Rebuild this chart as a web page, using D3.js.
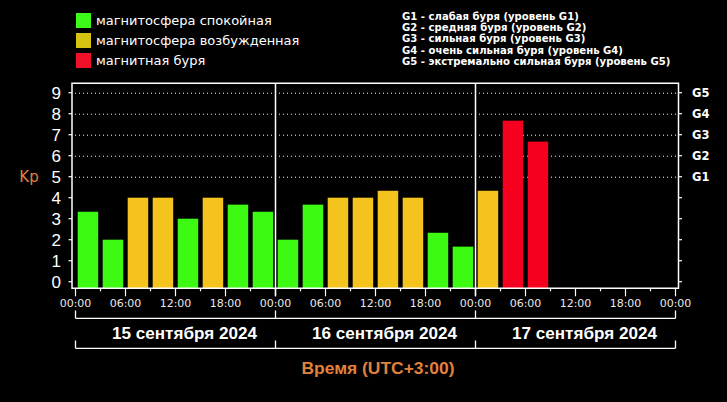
<!DOCTYPE html>
<html><head><meta charset="utf-8">
<script src="https://cdn.jsdelivr.net/npm/d3@7"></script>
<style>html,body{margin:0;padding:0;background:#000;}svg{display:block;}</style>
</head><body>
<script>
// ---- data ----
const days = ["15 сентября 2024", "16 сентября 2024", "17 сентября 2024"];
const kpValues = [3.33, 2.0, 4.0, 4.0, 3.0, 4.0, 3.67, 3.33,
                  2.0, 3.67, 4.0, 4.0, 4.33, 4.0, 2.33, 1.67,
                  4.33, 7.67, 6.67];
const hourTicks = d3.range(0, 73, 6);
const hourTickLabels = ["00:00","06:00","12:00","18:00","00:00","06:00","12:00","18:00","00:00","06:00","12:00","18:00","00:00"];
const yTicks = [0,1,2,3,4,5,6,7,8,9];
const gLevels = [5,6,7,8,9];
const gLabels = ["G1","G2","G3","G4","G5"];
const legendItems = ["магнитосфера спокойная", "магнитосфера возбужденная", "магнитная буря"];
const stormLegend = ["G1 - слабая буря (уровень G1)", "G2 - средняя буря (уровень G2)", "G3 - сильная буря (уровень G3)", "G4 - очень сильная буря (уровень G4)", "G5 - экстремально сильная буря (уровень G5)"];
const xTitle = "Время (UTC+3:00)";
const yTitle = "Kp";

const W = 727, H = 402;
const green = "#3cfa12", yellow = "#f5c31d", red = "#f5001f";
const legendColors = ["#3cfa1a", "#d6c311", "#f0102a"];
const orange = "#e2813c";
function colorOf(v){ return v >= 5 ? red : (v >= 4 ? yellow : green); }

const svg = d3.select("body").append("svg").attr("width", W).attr("height", H)
  .style("background", "#000");

const x = d3.scaleLinear().domain([0, 72]).range([75.5, 675.5]);
const y = d3.scaleLinear().domain([0, 9]).range([281.7, 92.7]);
const frameL = 72, frameR = 678.5, frameT = 83.3, frameB = 288.3;

// gridlines (dotted) for G levels
svg.append("g").selectAll("line").data(gLevels).join("line")
  .attr("x1", 75).attr("x2", frameR).attr("y1", d => y(d)+0.5).attr("y2", d => y(d)+0.5)
  .attr("stroke", "#fff").attr("stroke-width", 1).attr("stroke-dasharray", "1,3");

// bars
const barW = 20.5;
svg.append("g").selectAll("rect").data(kpValues).join("rect")
  .attr("x", (d, i) => x(i * 3) + 2.2)
  .attr("width", barW)
  .attr("y", d => y(d))
  .attr("height", d => frameB - y(d))
  .attr("fill", d => colorOf(d));

// frame
const fg = svg.append("g").attr("stroke", "#fff").attr("stroke-width", 1.5).attr("fill", "none");
fg.append("path").attr("d", `M${frameL},${frameB}V${frameT}H${frameR}V${frameB}Z`);

// day separators
svg.append("g").selectAll("line").data([24, 48]).join("line")
  .attr("x1", d => x(d)).attr("x2", d => x(d)).attr("y1", frameT).attr("y2", frameB + 8)
  .attr("stroke", "#fff").attr("stroke-width", 1.5);

// y ticks left and right
svg.append("g").selectAll("line").data(yTicks).join("line")
  .attr("x1", frameL - 3.5).attr("x2", frameL).attr("y1", d => y(d)).attr("y2", d => y(d))
  .attr("stroke", "#fff").attr("stroke-width", 1.2);
svg.append("g").selectAll("line").data(yTicks).join("line")
  .attr("x1", frameR).attr("x2", frameR + 3.5).attr("y1", d => y(d)).attr("y2", d => y(d))
  .attr("stroke", "#fff").attr("stroke-width", 1.2);

// y labels
svg.append("g").selectAll("text").data(yTicks).join("text")
  .attr("x", 61).attr("y", d => y(d)).attr("dy", "0.36em")
  .attr("text-anchor", "end").attr("fill", "#fff")
  .attr("font-family", "Liberation Sans, Arial, sans-serif").attr("font-size", 17)
  .text(d => d);

// G labels on right
svg.append("g").selectAll("text").data(gLevels).join("text")
  .attr("x", 692).attr("y", d => y(d)).attr("dy", "0.36em")
  .attr("fill", "#fff").attr("font-family", "DejaVu Sans, sans-serif").attr("font-size", 11.5)
  .attr("font-weight", "bold")
  .text((d, i) => gLabels[i]);

// Kp title
svg.append("text").attr("x", 29).attr("y", 182).attr("text-anchor", "middle")
  .attr("fill", orange).attr("font-family", "DejaVu Sans, sans-serif").attr("font-size", 15)
  .text(yTitle);

// x ticks
const xt = d3.range(0, 73, 3);
svg.append("g").selectAll("line").data(xt).join("line")
  .attr("x1", d => x(d)).attr("x2", d => x(d))
  .attr("y1", frameB).attr("y2", d => d % 6 === 0 ? frameB + 8 : frameB + 3)
  .attr("stroke", "#fff").attr("stroke-width", 1.2);

// x tick labels
svg.append("g").selectAll("text").data(hourTicks).join("text")
  .attr("x", d => x(d)).attr("y", 303).attr("dy", "0.36em").attr("text-anchor", "middle")
  .attr("fill", "#e8e8e8").attr("font-family", "DejaVu Sans, sans-serif").attr("font-size", 11)
  .text((d, i) => hourTickLabels[i]);

// brackets
const dayBounds = [0, 24, 48, 72];
function bracket(yLine, yTop){
  const g = svg.append("g").attr("stroke", "#fff").attr("stroke-width", 1.3);
  g.append("line").attr("x1", x(0)).attr("x2", x(72)).attr("y1", yLine).attr("y2", yLine);
  g.selectAll("line.t").data(dayBounds).join("line").attr("class", "t")
    .attr("x1", d => x(d)).attr("x2", d => x(d)).attr("y1", yTop).attr("y2", yLine);
}
bracket(318.3, 310.5);
bracket(348.3, 340.5);

// day labels
svg.append("g").selectAll("text").data(days).join("text")
  .attr("x", (d, i) => x(i * 24 + 12) + 9).attr("y", 338.5).attr("text-anchor", "middle")
  .attr("fill", "#fff").attr("font-family", "Liberation Sans Narrow, Liberation Sans, Arial, sans-serif")
  .attr("font-weight", "bold").attr("font-size", 17)
  .attr("textLength", 145).attr("lengthAdjust", "spacingAndGlyphs")
  .text(d => d);

// x title
svg.append("text").attr("x", 378).attr("y", 374).attr("text-anchor", "middle")
  .attr("fill", orange).attr("font-family", "Liberation Sans Narrow, Liberation Sans, Arial, sans-serif")
  .attr("font-weight", "bold").attr("font-size", 17)
  .attr("textLength", 153).attr("lengthAdjust", "spacingAndGlyphs")
  .text(xTitle);

// legend
const lg = svg.append("g");
lg.selectAll("rect").data(legendItems).join("rect")
  .attr("x", 76).attr("y", (d, i) => 13 + i * 20).attr("width", 15).attr("height", 15)
  .attr("fill", (d, i) => legendColors[i]);
lg.selectAll("text").data(legendItems).join("text")
  .attr("x", 96).attr("y", (d, i) => 20.5 + i * 20).attr("dy", "0.36em")
  .attr("fill", "#fff").attr("font-family", "DejaVu Sans, sans-serif").attr("font-size", 13)
  .text(d => d);

// storm legend
svg.append("g").selectAll("text").data(stormLegend).join("text")
  .attr("x", 402).attr("y", (d, i) => 16 + i * 11.3).attr("dy", "0.36em")
  .attr("fill", "#fff").attr("font-family", "DejaVu Sans, sans-serif").attr("font-size", 10.1)
  .attr("font-weight", "bold")
  .text(d => d);
</script>
</body></html>
